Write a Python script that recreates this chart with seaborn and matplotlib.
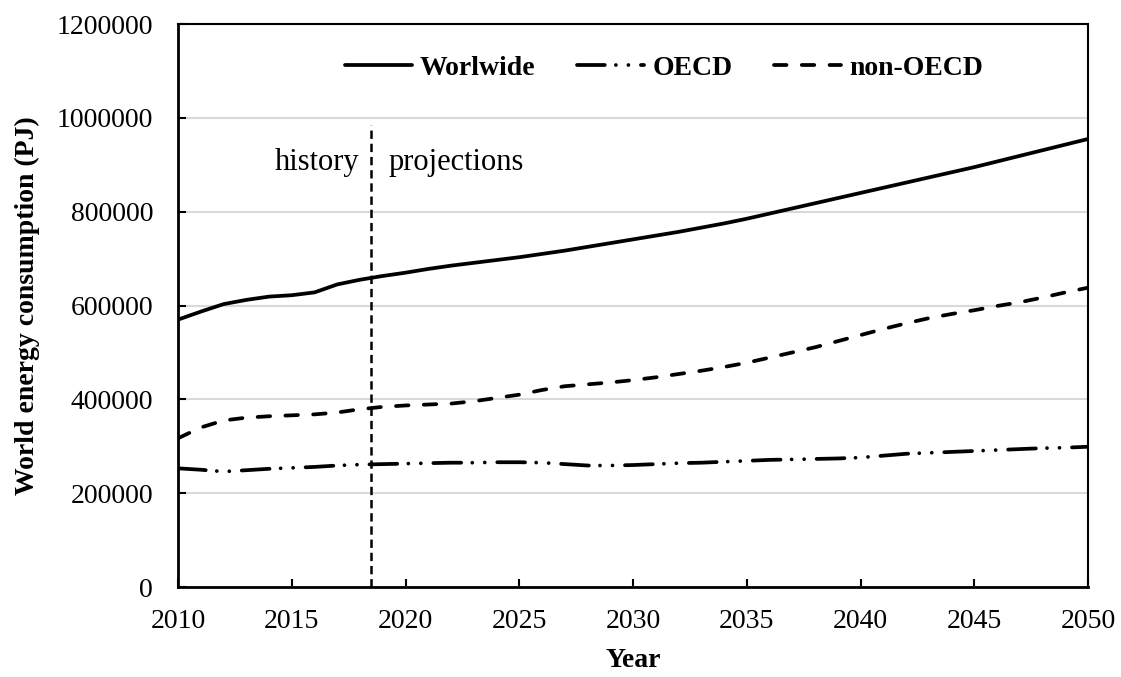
import matplotlib
matplotlib.use("Agg")
import matplotlib.pyplot as plt
import pandas as pd
import seaborn as sns

# 데이터
years = list(range(2010, 2051))
worldwide = [570000, 587000, 603000, 612000, 619000, 622000, 628000, 645000, 655000, 663000,
             670000, 678000, 685000, 691000, 697000, 703000, 710000, 717000, 725000, 733000,
             741000, 749000, 757000, 766000, 775000, 785000, 796000, 807000, 818000, 829000,
             840000, 851000, 862000, 873000, 884000, 895000, 907000, 919000, 931000, 943000,
             955000]
oecd = [253000, 250000, 246000, 249000, 252000, 254000, 256000, 259000, 261000, 262000,
        263000, 264000, 265000, 265000, 266000, 266000, 265000, 262000, 259000, 259000,
        260000, 262000, 264000, 265000, 267000, 269000, 271000, 272000, 273000, 274000,
        276000, 280000, 284000, 286000, 288000, 290000, 292000, 294000, 296000, 297000,
        299000]
non_oecd = [317000, 340000, 355000, 361000, 364000, 366000, 368000, 372000, 379000, 384000,
            387000, 389000, 391000, 396000, 403000, 410000, 420000, 428000, 432000, 436000,
            441000, 447000, 454000, 461000, 469000, 478000, 489000, 500000, 511000, 524000,
            537000, 550000, 562000, 573000, 582000, 590000, 599000, 607000, 617000, 628000,
            638000]
series_names = ["Worlwide", "OECD", "non-OECD"]
split_year = 2018.5
split_top = 985000
y_ticks = [0, 200000, 400000, 600000, 800000, 1000000, 1200000]
x_ticks = [2010, 2015, 2020, 2025, 2030, 2035, 2040, 2045, 2050]

df = pd.concat([
    pd.DataFrame({"Year": years, "value": vals, "series": name})
    for name, vals in zip(series_names, [worldwide, oecd, non_oecd])
], ignore_index=True)

# 시각화
sns.set_theme(style="white")
plt.rcParams["font.family"] = ["Liberation Serif", "DejaVu Serif"]
plt.rcParams["lines.scale_dashes"] = False
for key in ["text.color", "axes.labelcolor", "xtick.color", "ytick.color"]:
    plt.rcParams[key] = "black"

fig = plt.figure(figsize=(11.21, 6.77), dpi=100)
ax = fig.add_axes([0.1588, 0.1329, 0.8118, 0.8316])

dashes = {"Worlwide": "", "OECD": (20, 8, 0.01, 9, 0.01, 9), "non-OECD": (9, 11)}
sns.lineplot(data=df, x="Year", y="value", style="series", style_order=series_names,
             dashes=dashes, color="black", linewidth=2.7, ax=ax)
for line in ax.lines:
    line.set_dash_capstyle("round")

# history / projections 구분선
ax.vlines(split_year, 0, split_top, color="black", linewidth=1.8, linestyle=(0, (6, 3.5)))
ax.text(split_year - 0.55, 905000, "history", ha="right", va="center", fontsize=22)
ax.text(split_year + 0.75, 905000, "projections", ha="left", va="center", fontsize=22)

ax.set_xlim(2010, 2050)
ax.set_ylim(0, 1200000)
ax.set_xticks(x_ticks)
ax.set_yticks(y_ticks)
ax.set_yticklabels([str(v) for v in y_ticks])
ax.yaxis.grid(True, color="#d9d9d9", linewidth=1.5)
ax.xaxis.grid(False)
ax.tick_params(axis="both", direction="in", length=6, width=1.5, labelsize=20)
ax.tick_params(axis="x", bottom=True, pad=16)
ax.tick_params(axis="y", left=True, pad=18)
for side in ["left", "bottom", "top", "right"]:
    ax.spines[side].set_color("black")
    ax.spines[side].set_linewidth(2)
for side in ["top", "right"]:
    ax.spines[side].set_linewidth(1.5)

ax.set_xlabel("Year", fontsize=20, fontweight="bold", labelpad=10)
ax.set_ylabel("World energy consumption (PJ)", fontsize=20, fontweight="bold", labelpad=12)

handles, labels = ax.get_legend_handles_labels()
for h in handles:
    h.set_dash_capstyle("round")
leg = ax.legend(handles, labels, loc="center", bbox_to_anchor=(0.534, 0.922), ncol=3,
                frameon=False, handlelength=2.4, handletextpad=0.3, columnspacing=1.5,
                prop={"weight": "bold", "size": 20})

fig.savefig("out.png", dpi=100)
